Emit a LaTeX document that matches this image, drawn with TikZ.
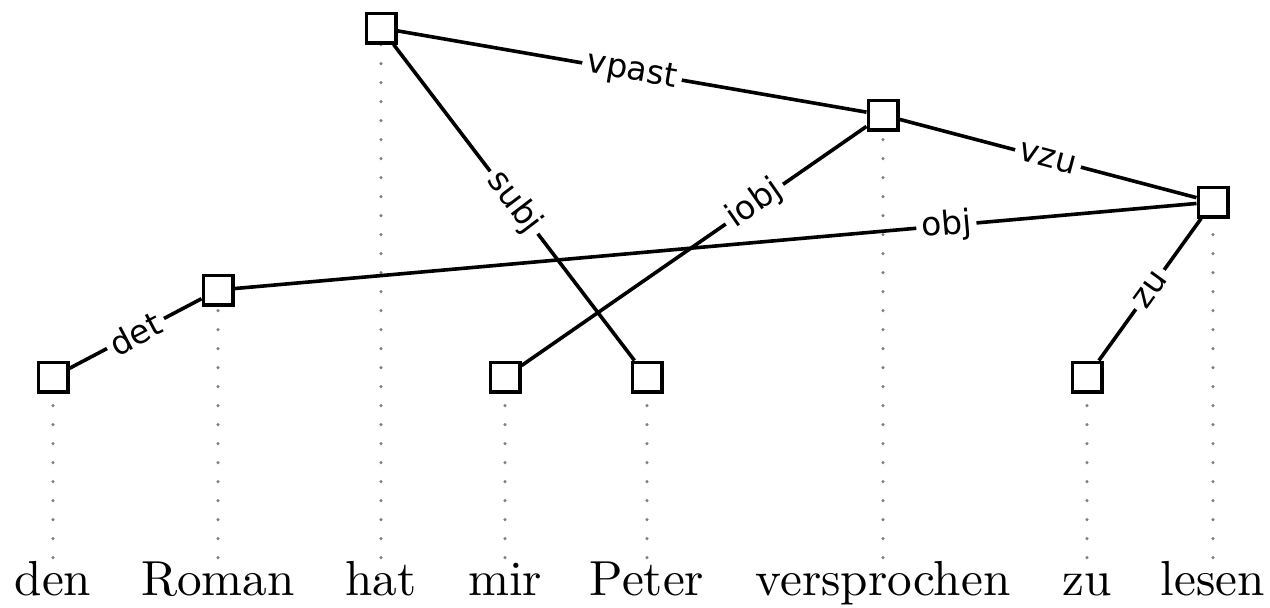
\documentclass[tikz,border=0pt]{standalone}
\usepackage{fontspec}
\newfontfamily\lblfont{DejaVu Sans}
\newfontfamily\wordfont{lmroman10-regular.otf}
\begin{document}
\begin{tikzpicture}[x=0.5pt,y=-0.5pt,
  box/.style={draw, line width=1.9pt, minimum size=14.6pt, inner sep=0pt, fill=white},
  edge/.style={line width=1.8pt},
  lbl/.style={font=\lblfont\fontsize{16.5}{18}\selectfont, fill=white, inner sep=2.5pt, sloped},
  word/.style={font=\wordfont\fontsize{24.6}{30}\selectfont, anchor=base, text height=17.5pt, text depth=6pt, inner sep=1pt},
  guide/.style={draw=gray, line width=1.7pt, line cap=round, dash pattern=on 0pt off 9.5pt}]
\useasboundingbox (0,0) rectangle (1270,607);
% words
\node[word] (w1) at (53,595) {den};
\node[word] (w2) at (218,595) {Roman};
\node[word] (w3) at (381,595) {hat};
\node[word] (w4) at (505,595) {mir};
\node[word] (w5) at (647,595) {Peter};
\node[word] (w6) at (883,595) {versprochen};
\node[word] (w7) at (1087,595) {zu};
\node[word] (w8) at (1213,595) {lesen};
% guides
\coordinate (c1) at (53,377);
\coordinate (c2) at (218,290);
\coordinate (c3) at (381,28);
\coordinate (c4) at (505,377);
\coordinate (c5) at (647,377);
\coordinate (c6) at (883,115);
\coordinate (c7) at (1087,377);
\coordinate (c8) at (1213,202);
\foreach \i in {1,...,8} \draw[guide] (w\i.north) -- (c\i);
% boxes
\foreach \i in {1,...,8} \node[box] (b\i) at (c\i) {};
% edges
\draw[edge] (b3) -- node[lbl]{vpast} (b6);
\draw[edge] (b3) -- node[lbl]{subj} (b5);
\draw[edge] (b6) -- node[lbl,pos=0.325]{iobj} (b4);
\draw[edge] (b6) -- node[lbl]{vzu} (b8);
\draw[edge] (b8) -- node[lbl,pos=0.26]{obj} (b2);
\draw[edge] (b2) -- node[lbl]{det} (b1);
\draw[edge] (b8) -- node[lbl]{zu} (b7);
\end{tikzpicture}
\end{document}
